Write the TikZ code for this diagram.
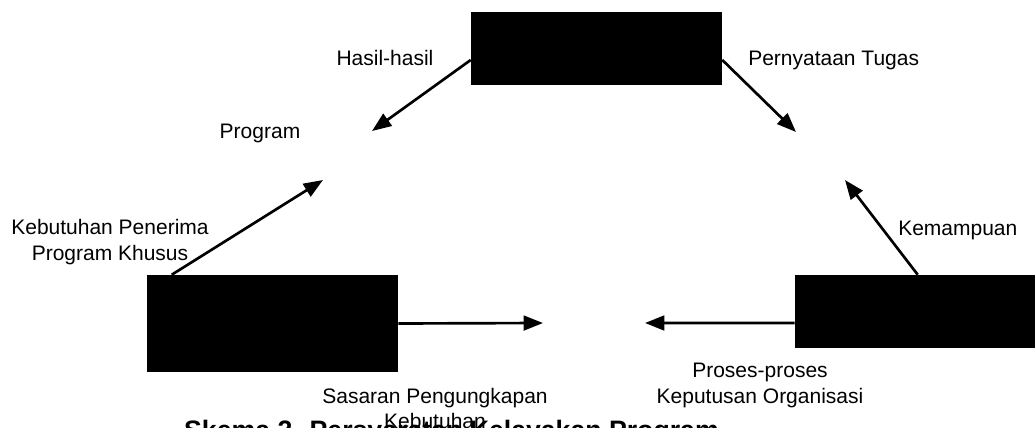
\documentclass[tikz,border=0pt]{standalone}
\usepackage{fontspec}
\setmainfont{Liberation Sans}
\usetikzlibrary{arrows.meta}

\tikzset{
  blackbox/.style={fill=black, inner sep=0pt, minimum width=188.25pt, minimum height=54.75pt},
  flow/.style={-{Triangle[length=14.5pt,width=11pt]}, line width=2pt},
  lbl/.style={inner sep=0pt, font=\fontsize{15.75}{19.1}\selectfont},
}

\begin{document}
\begin{tikzpicture}[x=0.75pt, y=-0.75pt]
  \useasboundingbox (0,0) rectangle (1035,428);
  % Black boxes
  \node[blackbox] (tugas) at (596.5,48.5) {};
  \node[blackbox, minimum height=72.75pt] (penerima) at (272.5,323.5) {};
  \node[blackbox] (organisasi) at (920.5,311.5) {};
  % Free ends of the arrows
  \coordinate (program) at (372,131);
  \coordinate (pernyataan) at (796,132);
  \coordinate (khusus) at (323,180);
  \coordinate (kemampuan) at (845,180);
  \coordinate (sasaranL) at (543,323);
  \coordinate (sasaranR) at (645,323);
  % Arrows
  \draw[flow] ([yshift=-8.6pt]tugas.west) -- (program);
  \draw[flow] ([yshift=-8.6pt]tugas.east) -- (pernyataan);
  \draw[flow] ([xshift=18.75pt]penerima.north west) -- (khusus);
  \draw[flow] ([xshift=92.25pt]organisasi.north west) -- (kemampuan);
  \draw[flow] (penerima.east) -- (sasaranL);
  \draw[flow] ([yshift=-8.6pt]organisasi.west) -- (sasaranR);
  % Labels
  \node[lbl, anchor=base] (hasil) at (385,65) {Hasil-hasil};
  \node[lbl, anchor=base west] (tugaslbl) at (748,65) {Pernyataan Tugas};
  \node[lbl, anchor=base] (proglbl) at (260,138) {Program};
  \node[lbl, anchor=north, align=center] (penerimalbl) at (110,219.5) {Kebutuhan Penerima\\Program Khusus};
  \node[lbl, anchor=base west] (mampulbl) at (898,235) {Kemampuan};
  \node[lbl, anchor=north, align=center] (proseslbl) at (760,363) {Proses-proses\\Keputusan Organisasi};
  \node[lbl, anchor=north, align=center] (sasaranlbl) at (435,387.7) {Sasaran Pengungkapan\\Kebutuhan};
  % Caption
  \node[inner sep=0pt, anchor=base, font=\fontsize{20}{24}\selectfont\bfseries] (judul) at (451.5,439) {Skema 2. Persyaratan Kelayakan Program};
\end{tikzpicture}
\end{document}
